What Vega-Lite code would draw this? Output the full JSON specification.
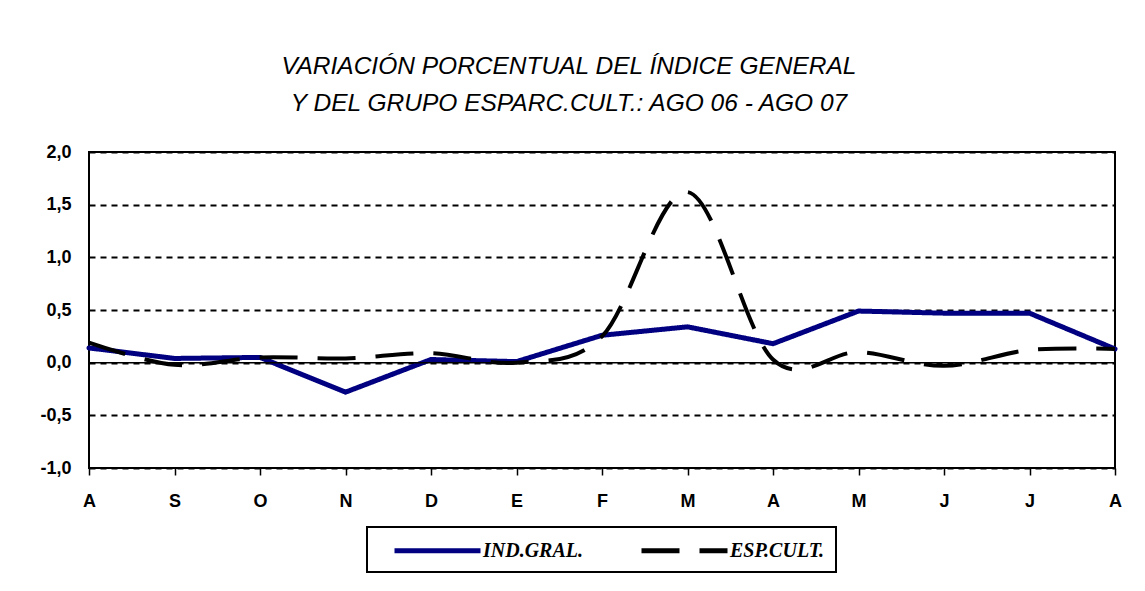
{
  "$schema": "https://vega.github.io/schema/vega-lite/v6.json",
  "width": 1026,
  "height": 316,
  "autosize": {"type": "none"},
  "padding": {"left": 89, "top": 152, "right": 30, "bottom": 123},
  "background": "white",
  "title": {
    "text": ["VARIACIÓN PORCENTUAL DEL ÍNDICE GENERAL", "Y DEL GRUPO ESPARC.CULT.: AGO 06 - AGO 07"],
    "font": "Liberation Sans",
    "fontSize": 24.5,
    "fontStyle": "italic",
    "fontWeight": "normal",
    "color": "black",
    "lineHeight": 37,
    "offset": 27,
    "anchor": "middle",
    "dx": -33
  },
  "data": {
    "values": [
      {"mes": "Ago-06", "serie": "IND.GRAL.", "valor": 0.14},
      {"mes": "Sep", "serie": "IND.GRAL.", "valor": 0.04},
      {"mes": "Oct", "serie": "IND.GRAL.", "valor": 0.05},
      {"mes": "Nov", "serie": "IND.GRAL.", "valor": -0.28},
      {"mes": "Dic", "serie": "IND.GRAL.", "valor": 0.03},
      {"mes": "Ene", "serie": "IND.GRAL.", "valor": 0.01},
      {"mes": "Feb", "serie": "IND.GRAL.", "valor": 0.26},
      {"mes": "Mar", "serie": "IND.GRAL.", "valor": 0.34},
      {"mes": "Abr", "serie": "IND.GRAL.", "valor": 0.18},
      {"mes": "May", "serie": "IND.GRAL.", "valor": 0.49},
      {"mes": "Jun", "serie": "IND.GRAL.", "valor": 0.47},
      {"mes": "Jul", "serie": "IND.GRAL.", "valor": 0.47},
      {"mes": "Ago-07", "serie": "IND.GRAL.", "valor": 0.13},
      {"mes": "Ago-06", "serie": "ESP.CULT.", "valor": 0.19},
      {"mes": "Sep", "serie": "ESP.CULT.", "valor": -0.02},
      {"mes": "Oct", "serie": "ESP.CULT.", "valor": 0.05},
      {"mes": "Nov", "serie": "ESP.CULT.", "valor": 0.04},
      {"mes": "Dic", "serie": "ESP.CULT.", "valor": 0.09},
      {"mes": "Ene", "serie": "ESP.CULT.", "valor": 0.0},
      {"mes": "Feb", "serie": "ESP.CULT.", "valor": 0.25},
      {"mes": "Mar", "serie": "ESP.CULT.", "valor": 1.62},
      {"mes": "Abr", "serie": "ESP.CULT.", "valor": 0.03},
      {"mes": "May", "serie": "ESP.CULT.", "valor": 0.1},
      {"mes": "Jun", "serie": "ESP.CULT.", "valor": -0.03},
      {"mes": "Jul", "serie": "ESP.CULT.", "valor": 0.12},
      {"mes": "Ago-07", "serie": "ESP.CULT.", "valor": 0.13}
    ]
  },
  "layer": [
    {
      "transform": [{"filter": "datum.serie == 'IND.GRAL.'"}],
      "mark": {"type": "line", "interpolate": "linear", "strokeWidth": 5, "strokeCap": "round", "strokeJoin": "round"},
      "encoding": {
        "x": {
          "field": "mes",
          "type": "ordinal",
          "sort": null,
          "scale": {"type": "point", "padding": 0},
          "axis": {
            "title": null,
            "labelAngle": 0,
            "domain": false,
            "ticks": true,
            "tickColor": "black",
            "tickSize": 7,
            "tickWidth": 1.5,
            "labelPadding": 17,
            "labelFont": "Liberation Sans",
            "labelFontSize": 18,
            "labelFontWeight": "bold",
            "labelColor": "black",
            "labelExpr": "substring(datum.label, 0, 1)",
            "grid": false
          }
        },
        "y": {
          "field": "valor",
          "type": "quantitative",
          "scale": {"domain": [-1, 2], "nice": false, "zero": false},
          "axis": {
            "title": null,
            "values": [-1, -0.5, 0, 0.5, 1, 1.5, 2],
            "labelExpr": "replace(replace(format(datum.value, '.1f'), '.', ','), '−', '-')",
            "domain": false,
            "ticks": false,
            "labelPadding": 18,
            "labelFont": "Liberation Sans",
            "labelFontSize": 18,
            "labelFontWeight": "bold",
            "labelColor": "black",
            "grid": true,
            "gridColor": "black",
            "gridWidth": 2,
            "gridDash": [6, 5],
            "gridOpacity": 1
          }
        },
        "color": {
          "field": "serie",
          "type": "nominal",
          "scale": {"domain": ["IND.GRAL.", "ESP.CULT."], "range": ["#000080", "#000000"]},
          "legend": {
            "title": null,
            "orient": "none",
            "legendX": 278,
            "legendY": 375,
            "direction": "horizontal",
            "symbolType": "M-4.3,0H4.3",
            "symbolSize": 400,
            "symbolOffset": 47,
            "symbolStrokeWidth": 5,
            "labelFont": "Liberation Serif",
            "labelFontSize": 20,
            "labelFontStyle": "italic",
            "labelFontWeight": "bold",
            "labelColor": "black",
            "labelOffset": 33,
            "columnPadding": 41,
            "padding": 11,
            "strokeColor": "black"
          }
        },
        "strokeDash": {
          "field": "serie",
          "type": "nominal",
          "scale": {"domain": ["IND.GRAL.", "ESP.CULT."], "range": [[1, 0], [38, 20]]},
          "legend": {
            "title": null,
            "orient": "none",
            "legendX": 278,
            "legendY": 375,
            "direction": "horizontal",
            "symbolType": "M-4.3,0H4.3",
            "symbolSize": 400,
            "symbolOffset": 47,
            "symbolStrokeWidth": 5,
            "labelFont": "Liberation Serif",
            "labelFontSize": 20,
            "labelFontStyle": "italic",
            "labelFontWeight": "bold",
            "labelColor": "black",
            "labelOffset": 33,
            "columnPadding": 41,
            "padding": 11,
            "strokeColor": "black"
          }
        }
      }
    },
    {
      "transform": [{"filter": "datum.serie == 'ESP.CULT.'"}],
      "mark": {"type": "line", "interpolate": "cardinal", "strokeWidth": 4},
      "encoding": {
        "x": {"field": "mes", "type": "ordinal", "sort": null},
        "y": {"field": "valor", "type": "quantitative"},
        "color": {"field": "serie", "type": "nominal"},
        "strokeDash": {"field": "serie", "type": "nominal"}
      }
    },
    {
      "data": {"values": [{"cero": 0}]},
      "mark": {"type": "rule", "color": "black", "strokeWidth": 1.5},
      "encoding": {"y": {"field": "cero", "type": "quantitative"}}
    }
  ],
  "config": {
    "view": {"stroke": "black", "strokeWidth": 2},
    "legend": {"strokeWidth": 2}
  }
}
